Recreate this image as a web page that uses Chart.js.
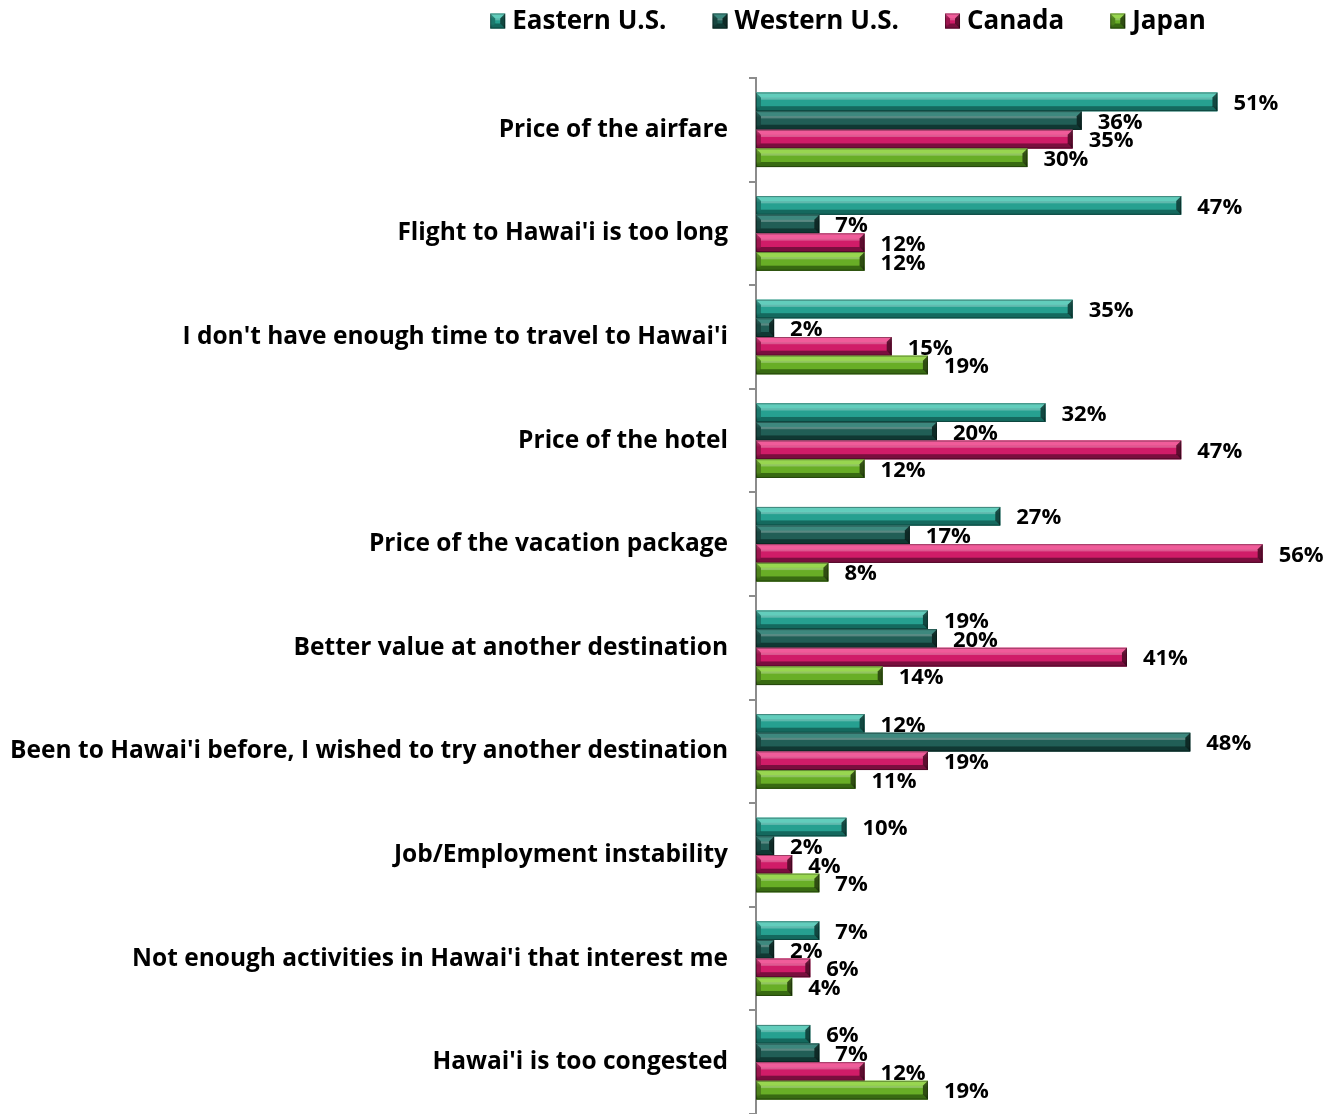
<!DOCTYPE html>
<html lang="en">
<head>
<meta charset="UTF-8">
<title>Reasons for not visiting Hawai'i</title>
<script src="https://cdn.jsdelivr.net/npm/chart.js"></script>
<style>
    html, body { margin: 0; padding: 0; background: #fff; overflow: hidden; }
    #wrap { width: 1326px; height: 1114px; }
</style>
</head>
<body>
<div id="wrap"><canvas id="reasonChart"></canvas></div>
<script>
    // categories (top to bottom)
    const categories = [
        "Price of the airfare",
        "Flight to Hawai'i is too long",
        "I don't have enough time to travel to Hawai'i",
        "Price of the hotel",
        "Price of the vacation package",
        "Better value at another destination",
        "Been to Hawai'i before, I wished to try another destination",
        "Job/Employment instability",
        "Not enough activities in Hawai'i that interest me",
        "Hawai'i is too congested"
    ];

    const seriesNames = ["Eastern U.S.", "Western U.S.", "Canada", "Japan"];

    // percentages per series
    const easternUS = [51, 47, 35, 32, 27, 19, 12, 10, 7, 6];
    const westernUS = [36, 7, 2, 20, 17, 20, 48, 2, 2, 7];
    const canada    = [35, 12, 15, 47, 56, 41, 19, 4, 6, 12];
    const japan     = [30, 12, 19, 12, 8, 14, 11, 7, 4, 19];

    // base / light / dark shades for the bevelled look
    const palette = [
        { base: '#26a090', light: '#62cdbc', dark: '#14695e' },
        { base: '#215e56', light: '#3d887e', dark: '#103833' },
        { base: '#d01c68', light: '#f05c9a', dark: '#7a0e3e' },
        { base: '#68ae26', light: '#98d650', dark: '#386a12' }
    ];

    const FONT = '"Open Sans", Lato, sans-serif';

    function poly(ctx, pts, fill) {
        ctx.beginPath();
        ctx.moveTo(pts[0][0], pts[0][1]);
        for (let i = 1; i < pts.length; i++) ctx.lineTo(pts[i][0], pts[i][1]);
        ctx.closePath();
        ctx.fillStyle = fill;
        ctx.fill();
    }

    function bevelRect(ctx, x0, y0, x1, y1, c) {
        const h = y1 - y0;
        const w = x1 - x0;
        const b = Math.min(5, h / 2.5, w / 2.5);
        const g = ctx.createLinearGradient(0, y0, 0, y1);
        g.addColorStop(0, c.light);
        g.addColorStop(0.35, c.base);
        g.addColorStop(0.7, c.base);
        g.addColorStop(1, c.dark);
        ctx.fillStyle = g;
        ctx.fillRect(x0, y0, w, h);
        // top and bottom bevel strips
        poly(ctx, [[x0, y0], [x1, y0], [x1 - b, y0 + b], [x0 + b, y0 + b]], c.light);
        poly(ctx, [[x0, y1], [x1, y1], [x1 - b, y1 - b], [x0 + b, y1 - b]], c.dark);
        // end caps
        poly(ctx, [[x1, y0], [x1, y1], [x1 - b, y1 - b], [x1 - b, y0 + b]], 'rgba(0,0,0,0.55)');
        poly(ctx, [[x0, y0], [x0, y1], [x0 + b, y1 - b], [x0 + b, y0 + b]], 'rgba(0,0,0,0.25)');
        // inner highlight line
        ctx.fillStyle = 'rgba(255,255,255,0.25)';
        ctx.fillRect(x0 + b, y0 + b, w - 2 * b, Math.max(1, h * 0.12));
        ctx.strokeStyle = 'rgba(0,0,0,0.35)';
        ctx.lineWidth = 1;
        ctx.strokeRect(x0 + 0.5, y0 + 0.5, w - 1, h - 1);
    }

    // draws bevelled bars, value labels and the legend
    const bevelPlugin = {
        id: 'bevel',
        afterDatasetsDraw(chart) {
            const ctx = chart.ctx;
            ctx.save();
            chart.data.datasets.forEach((ds, di) => {
                const meta = chart.getDatasetMeta(di);
                meta.data.forEach((bar, i) => {
                    const p = bar.getProps(['x', 'y', 'base', 'height'], true);
                    const y0 = p.y - p.height / 2;
                    bevelRect(ctx, p.base, y0, p.x, y0 + p.height, palette[di]);
                });
            });
            ctx.font = 'bold 22px ' + FONT;
            ctx.fillStyle = '#000';
            ctx.textAlign = 'left';
            ctx.textBaseline = 'middle';
            chart.data.datasets.forEach((ds, di) => {
                const meta = chart.getDatasetMeta(di);
                meta.data.forEach((bar, i) => {
                    ctx.fillText(ds.data[i] + '%', bar.x + 16, bar.y + 2);
                });
            });
            // legend
            ctx.font = 'bold 26px ' + FONT;
            const box = 15, gapBox = 7, gapItem = 46;
            const widths = seriesNames.map(n => box + gapBox + ctx.measureText(n).width);
            const total = widths.reduce((a, w) => a + w, 0) + gapItem * (widths.length - 1);
            let x = 848 - total / 2;
            const ly = 21;
            seriesNames.forEach((n, i) => {
                bevelRect(ctx, x, ly - box / 2, x + box, ly + box / 2, palette[i]);
                ctx.fillStyle = '#000';
                ctx.fillText(n, x + box + gapBox, ly + 1);
                x += widths[i] + gapItem;
            });
            ctx.restore();
        }
    };

    function makeDataset(label, data, i) {
        return {
            label: label,
            data: data,
            backgroundColor: palette[i].base,
            borderWidth: 0,
            barPercentage: 1.0,
            categoryPercentage: 0.72
        };
    }

    new Chart(document.getElementById('reasonChart'), {
        type: 'bar',
        data: {
            labels: categories,
            datasets: [
                makeDataset(seriesNames[0], easternUS, 0),
                makeDataset(seriesNames[1], westernUS, 1),
                makeDataset(seriesNames[2], canada, 2),
                makeDataset(seriesNames[3], japan, 3)
            ]
        },
        options: {
            indexAxis: 'y',
            responsive: true,
            maintainAspectRatio: false,
            animation: false,
            layout: { padding: { top: 78, right: 0, bottom: 0, left: 0 } },
            plugins: {
                legend: { display: false },
                tooltip: { enabled: false }
            },
            scales: {
                x: {
                    display: false,
                    min: 0,
                    max: 63
                },
                y: {
                    afterFit(scale) {
                        scale.width = 756;
                        scale.paddingTop = 0;
                        scale.paddingBottom = 0;
                    },
                    grid: {
                        display: true,
                        drawOnChartArea: false,
                        drawTicks: true,
                        tickLength: 7,
                        offset: true,
                        color: '#8c8c8c',
                        lineWidth: 2
                    },
                    border: { display: true, color: '#8c8c8c', width: 2 },
                    ticks: {
                        color: '#000',
                        padding: 21,
                        font: { family: FONT, size: 24.5, weight: 'bold' }
                    }
                }
            }
        },
        plugins: [bevelPlugin]
    });
</script>
</body>
</html>
